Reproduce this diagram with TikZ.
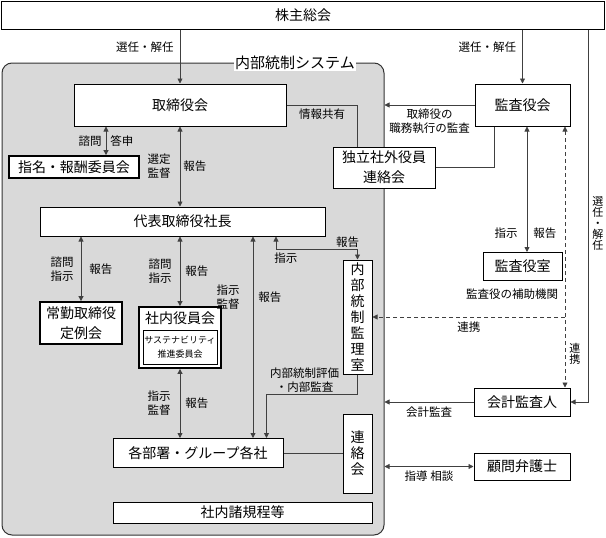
\documentclass[tikz,border=0pt]{standalone}
\usepackage{fontspec}
\setmainfont{Noto Sans CJK JP}
\usetikzlibrary{arrows.meta}
\tikzset{%
    lin/.style={line width=0.8pt, draw=black!75},
    lina/.style={line width=0.8pt, draw=black!75, -{Triangle[length=5pt,width=5pt]}},
    ldar/.style={line width=0.8pt, draw=black!75, {Triangle[length=5pt,width=5pt]}-{Triangle[length=5pt,width=5pt]}},
    dsh/.style={ldar, dash pattern=on 4pt off 3pt},
    dsha/.style={lina, dash pattern=on 4pt off 3pt},
    bx/.style={rectangle, draw, line width=1pt, fill=white, inner sep=0pt, align=center, font=\fontsize{14}{20}\selectfont},
    tbx/.style={bx, line width=1.8pt},
    vbx/.style={bx, font=\fontsize{14}{16}\selectfont},
    lbl/.style={inner sep=1pt, align=center, font=\fontsize{11.5}{14}\selectfont},
    vlbl/.style={lbl, font=\fontsize{11}{11}\selectfont},
}

\begin{document}
\begin{tikzpicture}[x=1pt,y=-1pt]
    \useasboundingbox (0,0) rectangle (606,538);
    \node[draw=black!80, line width=1pt, fill=black!15, rounded corners=10pt, minimum width=382pt, minimum height=472pt, inner sep=0pt] (sys) at (193,299) {};
    \node[fill=white, inner sep=1pt, font=\fontsize{15}{17}\selectfont] (sysT) at (295,63) {内部統制システム};
    \node[bx, minimum width=603pt, minimum height=28pt] (kabu) at (303,15) {株主総会};
    \node[bx, minimum width=212pt, minimum height=42pt] (tori) at (180,105) {取締役会};
    \node[tbx, minimum width=130pt, minimum height=22pt] (shimei) at (74,167) {指名・報酬委員会};
    \node[bx, minimum width=285pt, minimum height=29pt] (daihyo) at (182.5,221.5) {代表取締役社長};
    \node[tbx, minimum width=82pt, minimum height=42pt] (jokin) at (81,323) {常勤取締役\\定例会};
    \node[tbx, minimum width=82pt, minimum height=61pt] (shanai) at (180,337.5) {};
    \node[inner sep=0pt, font=\fontsize{14}{16}\selectfont] (shanaiT) at (180,318) {社内役員会};
    \node[draw, line width=0.8pt, fill=white, minimum width=74pt, minimum height=34pt, inner sep=0pt, align=center, font=\fontsize{9}{14}\selectfont] (suishin) at (180,347) {サステナビリティ\\推進委員会};
    \node[bx, minimum width=170pt, minimum height=29pt] (kakubu) at (198,453) {各部署・グループ各社};
    \node[bx, minimum width=259pt, minimum height=21pt] (kitei) at (242.5,512.5) {社内諸規程等};
    \node[vbx, minimum width=29pt, minimum height=114pt] (naibu) at (357.5,317) {内\\部\\統\\制\\監\\理\\室};
    \node[vbx, minimum width=29pt, minimum height=79pt] (renraku) at (357.5,453.5) {連\\絡\\会};
    \node[bx, minimum width=95pt, minimum height=42pt] (kansa) at (522.5,105) {監査役会};
    \node[bx, minimum width=102pt, minimum height=41pt] (dokuritsu) at (384,167.5) {独立社外役員\\連絡会};
    \node[bx, minimum width=79pt, minimum height=28pt] (kansashitsu) at (522.5,266.5) {監査役室};
    \node[lbl] (hojo) at (512,294) {監査役の補助機関};
    \node[bx, minimum width=96pt, minimum height=28pt] (kaikei) at (522,402) {会計監査人};
    \node[bx, minimum width=96pt, minimum height=27pt] (komon) at (522,466.5) {顧問弁護士};
    \coordinate (xs) at (106,0);
    \coordinate (xa) at (253,0);
    \coordinate (xb) at (276,0);
    \coordinate (xc) at (266.5,0);
    \coordinate (xd) at (494,0);
    \coordinate (xe) at (527,0);
    \coordinate (xf) at (565,0);
    \coordinate (xg) at (588,0);
    \draw [lina] (kabu.south -| tori) -- (tori.north) node[lbl, pos=0.33, left=5pt] (senA) {選任・解任};
    \draw [lina] (kabu.south -| kansa) -- (kansa.north) node[lbl, pos=0.33, left=5pt] (senB) {選任・解任};
    \draw [ldar] (tori.south -| xs) -- (shimei.north -| xs) node[lbl, midway, left=3pt] (shimon) {諮問} node[lbl, midway, right=3pt] (toshin) {答申};
    \draw [ldar] (daihyo.north -| tori) -- (tori.south) node[lbl, midway, left=8pt] (sentei) {選定\\監督} node[lbl, midway, right=2pt] (hokA) {報告};
    \draw [ldar] (daihyo.south -| jokin) -- (jokin.north) node[lbl, midway, left=6pt] (shiB) {諮問\\指示} node[lbl, midway, right=7pt] (hokB) {報告};
    \draw [ldar] (daihyo.south -| shanai) -- (shanai.north) node[lbl, midway, left=7pt] (shiC) {諮問\\指示} node[lbl, midway, right=4pt] (hokC) {報告};
    \draw [ldar] (shanai.south) -- (kakubu.north -| shanai) node[lbl, midway, left=8pt] (kanD) {指示\\監督} node[lbl, midway, right=4pt] (hokD) {報告};
    \draw [ldar] (kakubu.north -| xa) -- (daihyo.south -| xa) node[lbl, pos=0.70, left=12pt] (kanE) {指示\\監督} node[lbl, pos=0.70, right=4pt] (hokE) {報告};
    \draw [ldar] (daihyo.south -| xb) -- ++(0,13) -| (naibu.north) node[lbl, pos=0.44, above=1pt] (hokF) {報告} node[lbl, pos=0.06, below=2pt] (shiF) {指示};
    \draw [lina] (naibu.south) -- ++(0,20) -| (kakubu.north -| xc) node[lbl, pos=0.29, above=1pt] (hyoka) {内部統制評価\\・内部監査};
    \draw [lin] (kakubu.east) -- (renraku.west |- kakubu.east);
    \draw [lin] (tori.east) -| (dokuritsu.north -| naibu) node[lbl, pos=0.25, below=2pt] (joho) {情報共有};
    \draw [lina] (kansa.west) -- (kansa.west -| sys.east) node[lbl, midway, below=2pt] (shokumu) {取締役の\\職務執行の監査};
    \draw [lin] (kansa.south -| xd) |- (dokuritsu.east);
    \draw [ldar] (kansa.south -| xe) -- (kansashitsu.north -| xe) node[lbl, pos=0.85, left=8pt] (shiG) {指示} node[lbl, pos=0.85, right=5pt] (hokG) {報告};
    \draw [dsh] (kansa.south -| xf) -- (kaikei.north -| xf) node[vlbl, pos=0.87, right=3pt] (renA) {連\\携};
    \draw [dsha] (naibu.east -| xf) -- (naibu.east) node[lbl, midway, below=3pt] (renB) {連携};
    \draw [lina] (kabu.south -| xg) |- (kaikei.east) node[vlbl, pos=0.26, right=3pt] (senC) {選\\任\\・\\解\\任};
    \draw [lina] (kaikei.west) -- (kaikei.west -| sys.east) node[lbl, midway, below=3pt] (kaikan) {会計監査};
    \draw [ldar] (sys.east |- komon.west) -- (komon.west) node[lbl, midway, below=3pt] (shido) {指導\ 相談};
\end{tikzpicture}
\end{document}
